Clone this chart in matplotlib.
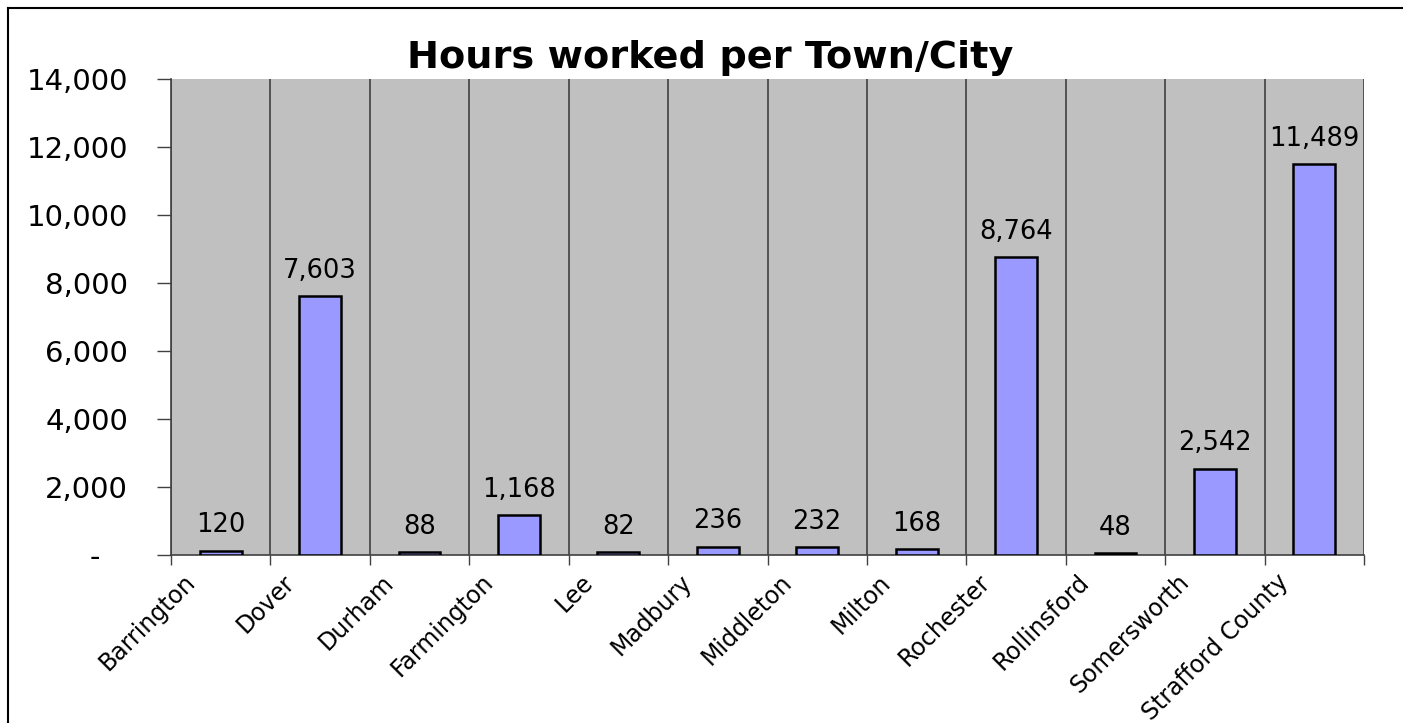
import matplotlib
matplotlib.use("Agg")
import matplotlib.pyplot as plt
import matplotlib.ticker as mticker
import matplotlib.transforms as mtransforms
from matplotlib.lines import Line2D
import numpy as np

# ─── Data ─────────────────────────────────────────────────────────────────────
towns = ["Barrington", "Dover", "Durham", "Farmington", "Lee", "Madbury",
         "Middleton", "Milton", "Rochester", "Rollinsford", "Somersworth",
         "Strafford County"]
hours = [120, 7603, 88, 1168, 82, 236, 232, 168, 8764, 48, 2542, 11489]
y_ticks = [0, 2000, 4000, 6000, 8000, 10000, 12000, 14000]

TITLE = "Hours worked per Town/City"
BAR_COLOR = "#9999FF"
PLOT_BG = "#C0C0C0"
GRID_COLOR = "#404040"

plt.rcParams["font.family"] = ["DejaVu Sans"]

fig = plt.figure(figsize=(14.03, 7.23), dpi=100)
ax = fig.add_axes([171 / 1403, 1 - 555 / 723, (1364 - 171) / 1403, (555 - 79) / 723])
ax.set_facecolor(PLOT_BG)

x = np.arange(len(towns))
ax.bar(x, hours, width=0.42, color=BAR_COLOR, edgecolor="black", linewidth=1.8, zorder=3)

for xi, v in zip(x, hours):
    ax.annotate(f"{v:,}", (xi, v), xytext=(0, 9), textcoords="offset points",
                ha="center", va="bottom", fontsize=18.5)

ax.set_xlim(-0.5, len(towns) - 0.5)
ax.set_ylim(0, 14000)

# category boundaries: gridlines + ticks
bounds = np.arange(len(towns) + 1) - 0.5
for b in bounds:
    ax.axvline(b, color=GRID_COLOR, linewidth=1.2, zorder=2)
ax.set_xticks(bounds)
ax.set_xticklabels([])
ax.tick_params(axis="x", length=7, width=1.0, color=GRID_COLOR)

# category labels, rotated like the spreadsheet default
offset = mtransforms.ScaledTranslation(-38 / 100, -15 / 100, fig.dpi_scale_trans)
for xi, name in zip(x, towns):
    ax.text(xi, 0, name, transform=ax.get_xaxis_transform() + offset,
            rotation=45, ha="right", va="top", rotation_mode="anchor",
            fontsize=17)


def _acct(v, _):
    # accounting-style zero: dash padded away from the axis
    return "-   " if v == 0 else f"{v:,.0f}"


ax.set_yticks(y_ticks)
ax.yaxis.set_major_formatter(mticker.FuncFormatter(_acct))
ax.tick_params(axis="y", length=10, width=1.0, color=GRID_COLOR, labelsize=21, pad=21)

for side in ("top", "right"):
    ax.spines[side].set_visible(False)
ax.spines["left"].set_color(GRID_COLOR)
ax.spines["bottom"].set_color(GRID_COLOR)
ax.spines["left"].set_linewidth(1.2)
ax.spines["bottom"].set_linewidth(1.2)

fig.text(0.506, 1 - 58 / 723, TITLE, ha="center", va="center",
         fontsize=27.5, fontweight="bold")

# outer chart frame (only left and top edges visible in crop)
fx, fy = 8 / 1403, 1 - 8 / 723
fig.add_artist(Line2D([fx, fx], [0, fy], transform=fig.transFigure, color="black", linewidth=1.5))
fig.add_artist(Line2D([fx, 1], [fy, fy], transform=fig.transFigure, color="black", linewidth=1.5))

fig.savefig("out.png", dpi=100)
